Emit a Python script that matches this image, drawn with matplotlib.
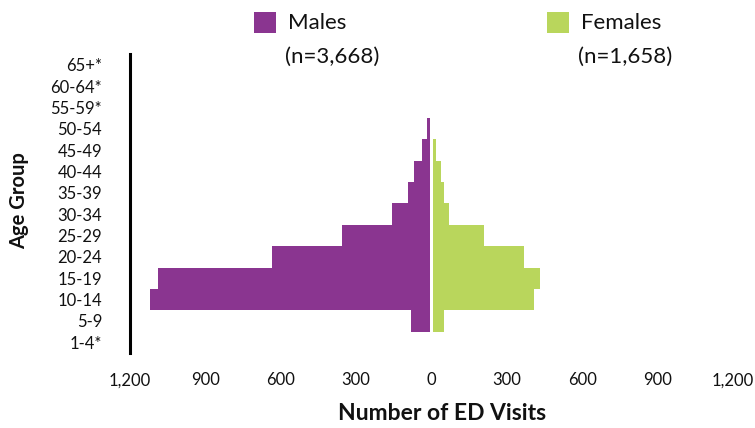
import matplotlib
matplotlib.use("Agg")
import matplotlib.pyplot as plt
from matplotlib.patches import Rectangle
from matplotlib.ticker import FixedLocator, FuncFormatter

# ---- data ----
age_groups = ["1-4*", "5-9", "10-14", "15-19", "20-24", "25-29", "30-34",
              "35-39", "40-44", "45-49", "50-54", "55-59*", "60-64*", "65+*"]
males = [0, 76, 1113, 1081, 628, 350, 151, 87, 64, 32, 12, 0, 0, 0]
females = [0, 43, 402, 425, 362, 203, 64, 43, 31, 11, 0, 0, 0, 0]
x_ticks = [-1200, -900, -600, -300, 0, 300, 600, 900, 1200]
male_label = "Males"
female_label = "Females"
male_n = "(n=3,668)"
female_n = "(n=1,658)"

purple = "#8A3590"
green = "#B9D65C"
font = ["Lato", "DejaVu Sans"]

W, H = 755, 428
fig = plt.figure(figsize=(W / 100, H / 100), dpi=100)
plt.rcParams["font.family"] = font

def fx(px):
    return px / W

def fy(py):
    return 1 - py / H

ax = fig.add_axes([fx(130), fy(353), fx(733) - fx(130), fy(54) - fy(353)])

gap = 6
y = list(range(len(age_groups)))
ax.barh(y, [-v for v in males], left=-gap, height=1.0, color=purple, linewidth=0)
ax.barh(y, females, left=gap, height=1.0, color=green, linewidth=0)

ax.set_xlim(-1200, 1200)
ax.set_ylim(-0.5, len(age_groups) - 0.5)
ax.xaxis.set_major_locator(FixedLocator(x_ticks))
ax.xaxis.set_major_formatter(FuncFormatter(lambda v, p: f"{abs(int(v)):,}"))
ax.set_yticks(y)
ax.set_yticklabels(age_groups)
ax.tick_params(axis="both", length=0, labelsize=12, colors="#111111")
ax.tick_params(axis="x", pad=14)
ax.tick_params(axis="y", pad=20)

for s in ["top", "right", "bottom"]:
    ax.spines[s].set_visible(False)
ax.spines["left"].set_linewidth(2.2)
ax.spines["left"].set_color("#000000")

# axis titles
fig.text(fx(442), fy(414), "Number of ED Visits", ha="center", va="center",
         fontsize=16.5, fontweight="bold", color="#111111")
fig.text(fx(19), fy(201), "Age Group", ha="center", va="center", rotation=90,
         fontsize=14.5, fontweight="bold", color="#111111")

# legend
for x0, col, lab, n, nx in [(254, purple, male_label, male_n, 285),
                           (547, green, female_label, female_n, 578)]:
    fig.add_artist(Rectangle((fx(x0), fy(33)), fx(22), 21 / H, color=col,
                             transform=fig.transFigure, linewidth=0))
    fig.text(fx(x0 + 34), fy(23), lab, ha="left", va="center", fontsize=16,
             color="#111111")
    fig.text(fx(nx), fy(57), n, ha="left", va="center", fontsize=16,
             color="#111111")

fig.savefig("out.png", dpi=100)
